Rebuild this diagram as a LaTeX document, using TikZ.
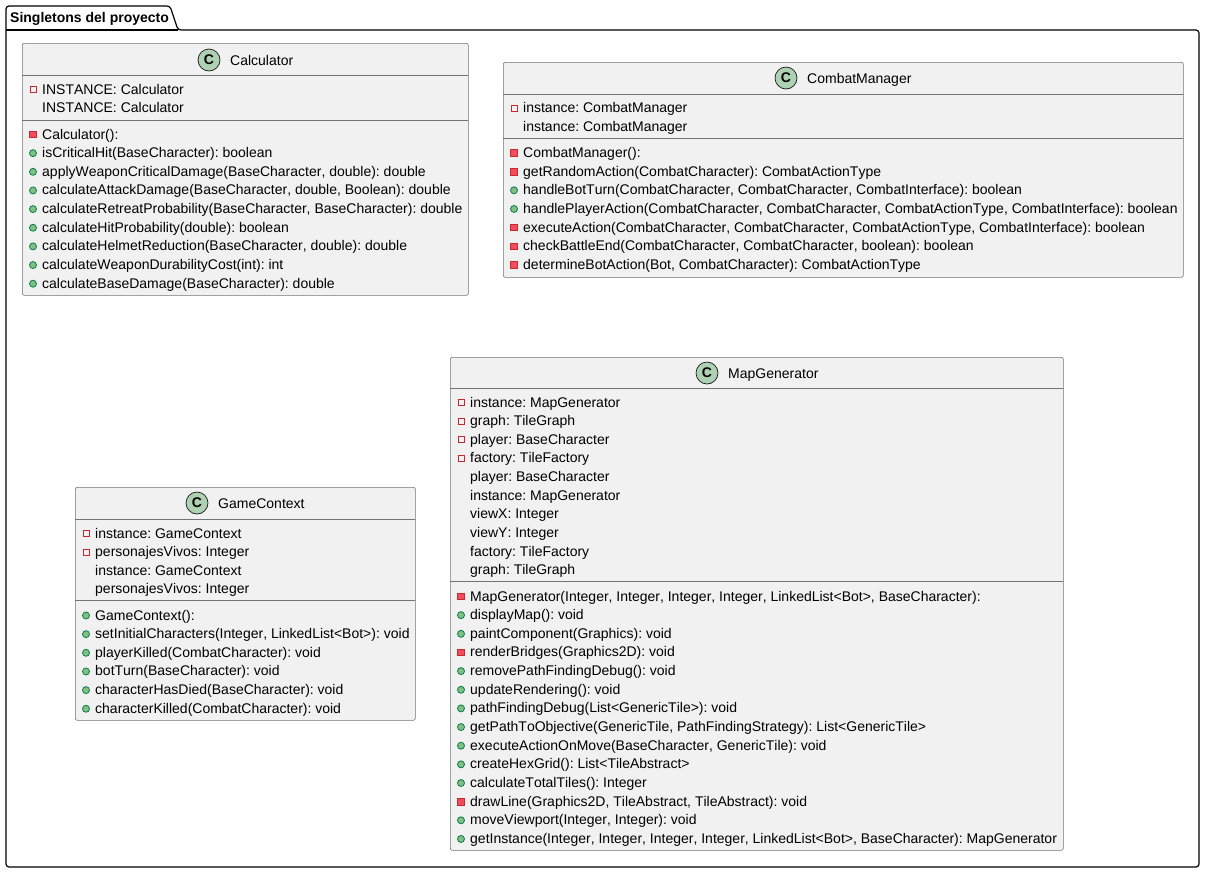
\documentclass[tikz,border=0pt]{standalone}
\usepackage{fontspec}
\setmainfont[Kerning=Off]{Liberation Sans}
\frenchspacing
\definecolor{boxgray}{HTML}{F1F1F1}
\definecolor{spotgreen}{HTML}{ADD1B2}
\definecolor{privline}{HTML}{C82930}
\definecolor{privfill}{HTML}{F24D5C}
\definecolor{publine}{HTML}{038048}
\definecolor{pubfill}{HTML}{84BE84}
\tikzset{
  classbox/.style={draw=black!55, fill=boxgray, line width=.6pt, rounded corners=2pt, anchor=north west, inner sep=0pt},
  sepline/.style={draw=black!55, line width=.6pt},
  spot/.style={circle, draw=black!90, fill=spotgreen, line width=.7pt, minimum size=22pt, inner sep=0pt, font=\fontsize{14}{14}\selectfont\bfseries},
  title/.style={anchor=west, inner sep=0pt, yshift=-1.5pt, text height=10pt, text depth=3pt, font=\fontsize{14}{14}\selectfont\frenchspacing},
  member/.style={anchor=west, inner sep=0pt, yshift=-1pt, text height=10pt, text depth=3pt, font=\fontsize{14}{14}\selectfont\frenchspacing},
  privfield/.style={rectangle, draw=privline, fill=none, line width=.8pt, minimum size=6pt, inner sep=0pt},
  privmethod/.style={rectangle, draw=privline, fill=privfill, line width=.8pt, minimum size=6.5pt, inner sep=0pt},
  pubmethod/.style={circle, draw=publine, fill=pubfill, line width=.8pt, minimum size=7pt, inner sep=0pt},
  plain/.style={inner sep=0pt, minimum size=0pt},
}
% x of the box, first y, step, prefix, then kind/text pairs
\newcommand{\memberlist}[5]{
  \foreach \kind/\txt [count=\i from 0] in {#5} {
    \pgfmathsetmacro{\rowy}{#2+\i*#3}
    \node[\kind] (#4mark\i) at (#1+11,\rowy) {};
    \node[member] (#4row\i) at (#1+20,\rowy) {\txt};
  }
}
\begin{document}
\begin{tikzpicture}[x=1pt,y=-1pt]
  \useasboundingbox (0,0) rectangle (1205,873);
  % package
  \draw[line width=1.2pt, rounded corners=3pt, fill=white] (6,30) -- (6,6) -- (170,6) -- (178,30) -- (1199,30) -- (1199,867) -- (6,867) -- cycle;
  \draw[line width=1.2pt] (6,30) -- (178,30);
  \node[anchor=west, inner sep=0pt, text height=10pt, text depth=3pt, font=\fontsize{14}{14}\selectfont\bfseries\frenchspacing] (pkg) at (10,19) {Singletons del proyecto};

  % Calculator
  \node[classbox, minimum width=446pt, minimum height=252pt] (calc) at (22,43) {};
  \node[spot] (calcspot) at (209,60) {C};
  \node[title] (calctitle) at (230,60) {Calculator};
  \draw[sepline] (22,75) -- (468,75);
  \draw[sepline] (22,120.5) -- (468,120.5);
  \memberlist{22}{89.5}{18.65}{calcf}{privfield/INSTANCE: Calculator, plain/INSTANCE: Calculator}
  \memberlist{22}{134.5}{18.65}{calcm}{
    privmethod/Calculator():,
    pubmethod/isCriticalHit(BaseCharacter): boolean,
    pubmethod/{applyWeaponCriticalDamage(BaseCharacter, double): double},
    pubmethod/{calculateAttackDamage(BaseCharacter, double, Boolean): double},
    pubmethod/{calculateRetreatProbability(BaseCharacter, BaseCharacter): double},
    pubmethod/calculateHitProbability(double): boolean,
    pubmethod/{calculateHelmetReduction(BaseCharacter, double): double},
    pubmethod/calculateWeaponDurabilityCost(int): int,
    pubmethod/calculateBaseDamage(BaseCharacter): double}

  % CombatManager
  \node[classbox, minimum width=680pt, minimum height=215pt] (combat) at (503,62) {};
  \node[spot] (combatspot) at (786,78) {C};
  \node[title] (combattitle) at (807,78) {CombatManager};
  \draw[sepline] (503,94) -- (1183,94);
  \draw[sepline] (503,138.5) -- (1183,138.5);
  \memberlist{503}{108}{18.65}{combatf}{privfield/instance: CombatManager, plain/instance: CombatManager}
  \memberlist{503}{153}{18.65}{combatm}{
    privmethod/CombatManager():,
    privmethod/getRandomAction(CombatCharacter): CombatActionType,
    pubmethod/{handleBotTurn(CombatCharacter, CombatCharacter, CombatInterface): boolean},
    pubmethod/{handlePlayerAction(CombatCharacter, CombatCharacter, CombatActionType, CombatInterface): boolean},
    privmethod/{executeAction(CombatCharacter, CombatCharacter, CombatActionType, CombatInterface): boolean},
    privmethod/{checkBattleEnd(CombatCharacter, CombatCharacter, boolean): boolean},
    privmethod/{determineBotAction(Bot, CombatCharacter): CombatActionType}}

  % GameContext
  \node[classbox, minimum width=340pt, minimum height=233pt] (game) at (75,487) {};
  \node[spot] (gamespot) at (197,503) {C};
  \node[title] (gametitle) at (218,503) {GameContext};
  \draw[sepline] (75,519) -- (415,519);
  \draw[sepline] (75,600.5) -- (415,600.5);
  \memberlist{75}{533.5}{18.65}{gamef}{
    privfield/instance: GameContext,
    privfield/personajesVivos: Integer,
    plain/instance: GameContext,
    plain/personajesVivos: Integer}
  \memberlist{75}{615.5}{18.65}{gamem}{
    pubmethod/GameContext():,
    pubmethod/{setInitialCharacters(Integer, LinkedList<Bot>): void},
    pubmethod/playerKilled(CombatCharacter): void,
    pubmethod/botTurn(BaseCharacter): void,
    pubmethod/characterHasDied(BaseCharacter): void,
    pubmethod/characterKilled(CombatCharacter): void}

  % MapGenerator
  \node[classbox, minimum width=613pt, minimum height=493pt] (map) at (450,357) {};
  \node[spot] (mapspot) at (707,373) {C};
  \node[title] (maptitle) at (728,373) {MapGenerator};
  \draw[sepline] (450,388.5) -- (1063,388.5);
  \draw[sepline] (450,581.5) -- (1063,581.5);
  \memberlist{450}{402.5}{18.65}{mapf}{
    privfield/instance: MapGenerator,
    privfield/graph: TileGraph,
    privfield/player: BaseCharacter,
    privfield/factory: TileFactory,
    plain/player: BaseCharacter,
    plain/instance: MapGenerator,
    plain/viewX: Integer,
    plain/viewY: Integer,
    plain/factory: TileFactory,
    plain/graph: TileGraph}
  \memberlist{450}{596.5}{18.65}{mapm}{
    privmethod/{MapGenerator(Integer, Integer, Integer, Integer, LinkedList<Bot>, BaseCharacter):},
    pubmethod/displayMap(): void,
    pubmethod/paintComponent(Graphics): void,
    privmethod/renderBridges(Graphics2D): void,
    pubmethod/removePathFindingDebug(): void,
    pubmethod/updateRendering(): void,
    pubmethod/pathFindingDebug(List<GenericTile>): void,
    pubmethod/{getPathToObjective(GenericTile, PathFindingStrategy): List<GenericTile>},
    pubmethod/{executeActionOnMove(BaseCharacter, GenericTile): void},
    pubmethod/createHexGrid(): List<TileAbstract>,
    pubmethod/calculateTotalTiles(): Integer,
    privmethod/{drawLine(Graphics2D, TileAbstract, TileAbstract): void},
    pubmethod/{moveViewport(Integer, Integer): void},
    pubmethod/{getInstance(Integer, Integer, Integer, Integer, LinkedList<Bot>, BaseCharacter): MapGenerator}}
\end{tikzpicture}
\end{document}
